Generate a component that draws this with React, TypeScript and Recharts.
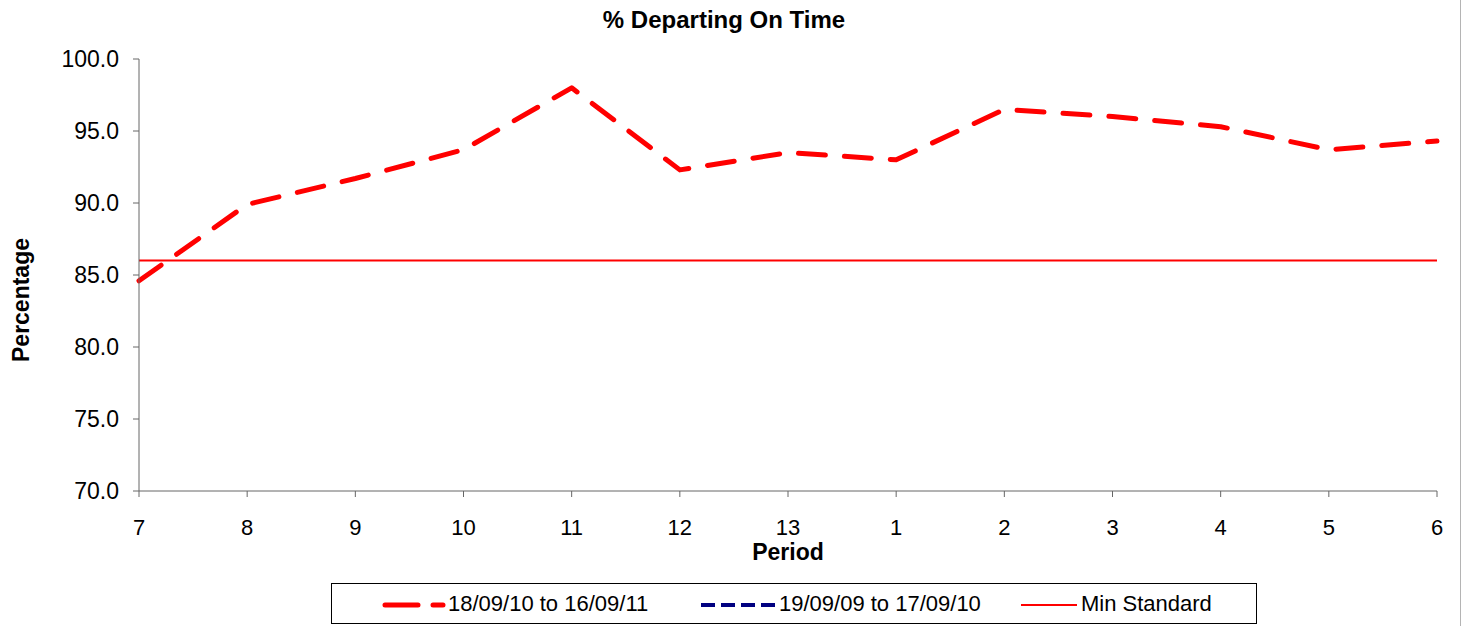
import { LineChart, Line, XAxis, YAxis, Legend, Label } from 'recharts';

const periods = ['7', '8', '9', '10', '11', '12', '13', '1', '2', '3', '4', '5', '6'];
const currentYear = [84.6, 89.9, 91.7, 93.7, 98.0, 92.3, 93.5, 93.0, 96.5, 96.0, 95.3, 93.7, 94.3];
const previousYear = [null, null, null, null, null, null, null, null, null, null, null, null, null];
const minStandard = [86, 86, 86, 86, 86, 86, 86, 86, 86, 86, 86, 86, 86];
const yTicks = [70, 75, 80, 85, 90, 95, 100];

const seriesNames = {
  current: '18/09/10 to 16/09/11',
  previous: '19/09/09 to 17/09/10',
  min: 'Min Standard'
};

const data = periods.map((p, i) => ({
  period: p,
  current: currentYear[i],
  previous: previousYear[i],
  min: minStandard[i]
}));

const FONT = '"Liberation Sans", Arial, sans-serif';
const AXIS = '#666';

function LegendBox() {
  const text = { position: 'absolute' as const, top: 8, fontSize: 22, lineHeight: '24px', color: '#000', whiteSpace: 'nowrap' as const };
  return (
    <div style={{ position: 'relative', width: 926, height: 41, border: '1px solid #000', boxSizing: 'border-box', fontFamily: FONT, background: '#fff' }}>
      <svg style={{ position: 'absolute', left: 50, top: 10 }} width={64} height={20}>
        <line x1={3} y1={11} x2={61} y2={11} stroke='#ff0000' strokeWidth={5} strokeDasharray='33 15' strokeLinecap='round' />
      </svg>
      <span style={{ ...text, left: 116 }}>{seriesNames.current}</span>
      <svg style={{ position: 'absolute', left: 368, top: 10 }} width={80} height={20}>
        <line x1={1} y1={11} x2={77} y2={11} stroke='#000080' strokeWidth={4} strokeDasharray='14 6' />
      </svg>
      <span style={{ ...text, left: 447 }}>{seriesNames.previous}</span>
      <svg style={{ position: 'absolute', left: 688, top: 10 }} width={60} height={20}>
        <line x1={1} y1={11} x2={57} y2={11} stroke='#ff0000' strokeWidth={2} />
      </svg>
      <span style={{ ...text, left: 749 }}>{seriesNames.min}</span>
    </div>
  );
}

export default function App() {
  return (
    <div style={{ position: 'absolute', left: 0, top: 0, width: 1465, height: 626, background: '#fff', fontFamily: FONT }}>
      <div style={{ position: 'absolute', left: 0, top: 8, width: 1448, textAlign: 'center', fontSize: 24, lineHeight: '24px', fontWeight: 'bold' }}>
        % Departing On Time
      </div>
      <div style={{ position: 'absolute', left: 1460, top: 0, width: 1, height: 626, background: '#b4b4b4' }} />
      <LineChart width={1465} height={626} data={data} margin={{ top: 59, right: 28, bottom: 2, left: 0 }} style={{ fontFamily: FONT }}>
        <XAxis
          dataKey='period'
          height={92}
          stroke={AXIS}
          tick={{ fill: '#000', fontSize: 22 }}
          tickSize={6}
          tickMargin={22}
        >
          <Label value='Period' position='insideBottom' offset={23} style={{ fontSize: 23, fontWeight: 'bold', fill: '#000' }} />
        </XAxis>
        <YAxis
          width={139}
          domain={[70, 100]}
          ticks={yTicks}
          stroke={AXIS}
          tick={{ fill: '#000', fontSize: 23 }}
          tickSize={6}
          tickMargin={14}
          tickFormatter={(v: number) => v.toFixed(1)}
        >
          <Label
            content={() => (
              <text x={29} y={300} transform='rotate(-90 29 300)' textAnchor='middle' fontSize={23} fontWeight='bold' fill='#000'>
                Percentage
              </text>
            )}
          />
        </YAxis>
        <Legend
          verticalAlign='bottom'
          width={926}
          wrapperStyle={{ left: 331, bottom: 2 }}
          content={() => <LegendBox />}
        />
        <Line
          dataKey='min'
          name={seriesNames.min}
          stroke='#ff0000'
          strokeWidth={2}
          dot={false}
          activeDot={false}
          isAnimationActive={false}
        />
        <Line
          dataKey='previous'
          name={seriesNames.previous}
          stroke='#000080'
          strokeWidth={4}
          strokeDasharray='14 6'
          dot={false}
          activeDot={false}
          isAnimationActive={false}
        />
        <Line
          dataKey='current'
          name={seriesNames.current}
          stroke='#ff0000'
          strokeWidth={5}
          strokeDasharray='27 19'
          strokeLinecap='round'
          strokeLinejoin='round'
          dot={false}
          activeDot={false}
          isAnimationActive={false}
        />
      </LineChart>
    </div>
  );
}
